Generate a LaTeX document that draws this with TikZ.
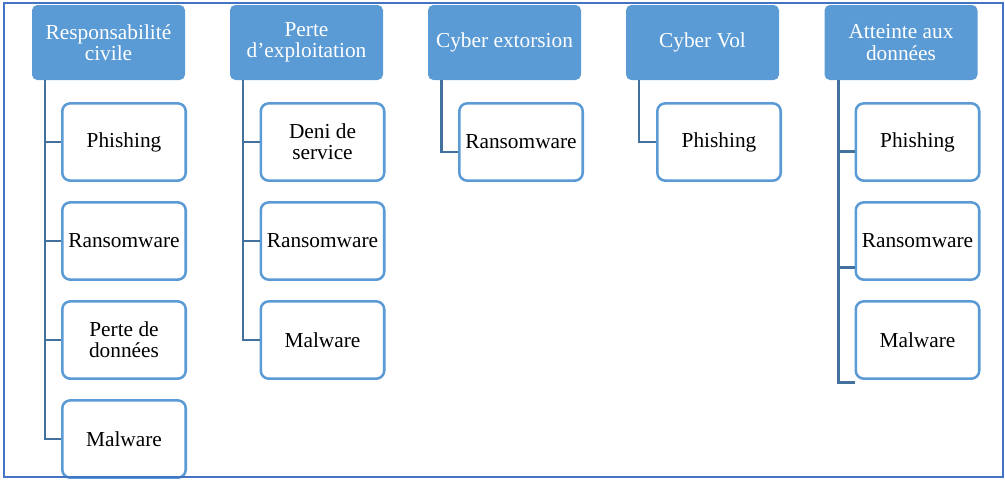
\documentclass[tikz,border=0pt]{standalone}
\usepackage{fontspec}
\setmainfont{Liberation Serif}
\definecolor{headblue}{HTML}{5B9BD5}
\definecolor{linkblue}{HTML}{41719C}
\definecolor{frameblue}{HTML}{4472C4}
\tikzset{
    head/.style={fill=headblue, rounded corners=4pt, text=white, align=center,
        minimum width=114.75pt, minimum height=56.25pt, inner sep=1pt,
        font=\fontsize{16}{16}\selectfont},
    leaf/.style={draw=headblue, line width=1.9pt, fill=white, rounded corners=6pt,
        align=center, minimum width=92.6pt, minimum height=58pt, inner sep=1pt,
        font=\fontsize{16}{16}\selectfont},
    link/.style={draw=linkblue, line width=2pt}
}
\begin{document}
\begin{tikzpicture}[x=0.75pt, y=-0.75pt]
    \useasboundingbox (0,0) rectangle (1005,479);

    % Responsabilite civile
    \node[head] (rc) at (108.5,42.5) {Responsabilité\\civile};
    \node[leaf] (rc1) at (124,142) {Phishing};
    \node[leaf] (rc2) at (124,241) {Ransomware};
    \node[leaf] (rc3) at (124,340) {Perte de\\données};
    \node[leaf] (rc4) at (124,439) {Malware};
    \foreach \c in {rc1,rc2,rc3,rc4} {
        \draw[link] ([xshift=10pt]rc.south west) |- (\c.west);
    }

    % Perte d'exploitation
    \node[head] (pe) at (306.5,42.5) {Perte\\d'exploitation};
    \node[leaf] (pe1) at (322.5,142) {Deni de\\service};
    \node[leaf] (pe2) at (322.5,241) {Ransomware};
    \node[leaf] (pe3) at (322.5,340) {Malware};
    \foreach \c in {pe1,pe2,pe3} {
        \draw[link] ([xshift=10pt]pe.south west) |- (\c.west);
    }

    % Cyber extorsion
    \node[head] (ce) at (504.5,42.5) {Cyber extorsion};
    \node[leaf] (ce1) at (521,142) {Ransomware};
    \draw[link] ([xshift=10.5pt]ce.south west) |- ([yshift=-7.5pt]ce1.west);

    % Cyber Vol
    \node[head] (cv) at (702.5,42.5) {Cyber Vol};
    \node[leaf] (cv1) at (719,142) {Phishing};
    \draw[link] ([xshift=10pt]cv.south west) |- (cv1.west);

    % Atteinte aux donnees
    \node[head] (ad) at (901,42.5) {Atteinte aux\\données};
    \node[leaf] (ad1) at (917.5,142) {Phishing};
    \node[leaf] (ad2) at (917.5,241) {Ransomware};
    \node[leaf] (ad3) at (917.5,340) {Malware};
    \draw[link] ([xshift=10.5pt]ad.south west) |- ([yshift=-7pt]ad1.west);
    \draw[link] ([xshift=10.5pt]ad.south west) |- ([yshift=-20pt]ad2.west);
    \draw[link] ([xshift=10.5pt]ad.south west) |- ([yshift=-32pt]ad3.west);

    % cadre
    \draw[frameblue, line width=1pt] (4,3) rectangle (1003,477);
\end{tikzpicture}
\end{document}
